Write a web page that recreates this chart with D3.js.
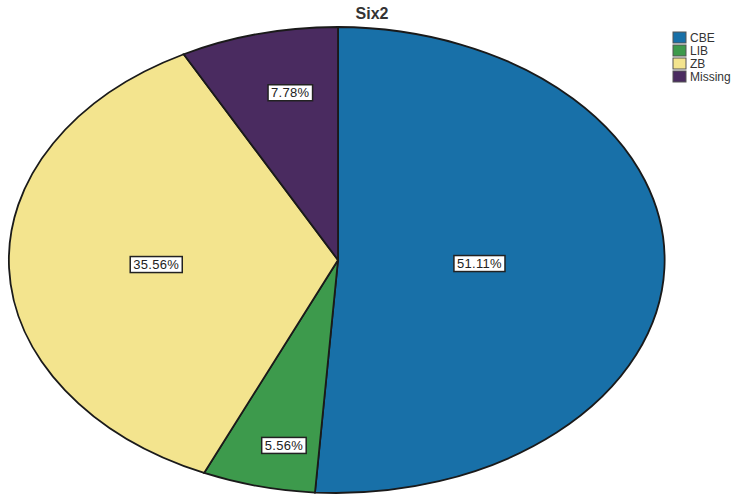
<!DOCTYPE html>
<html>
<head>
<meta charset="utf-8">
<script src="https://cdn.jsdelivr.net/npm/d3@7"></script>
<style>
  body { margin: 0; background: #fff; }
  svg { display: block; font-family: Arial, "Liberation Sans", sans-serif; }
</style>
</head>
<body>
<div id="chart"></div>
<script>
// data (counts out of 90 -> percentages shown on slices)
const categories = ["CBE", "LIB", "ZB", "Missing"];
const counts = [46, 5, 32, 7];
const colors = ["#1870a8", "#3d9a4c", "#f3e48e", "#4a2b60"];
// how far out (fraction of radius) each slice label sits
const labelRadius = [[0.43, 0.43], [0.68, 0.82], [0.553, 0.553], [0.6, 0.74]];

const width = 742, height = 499;
const cx = 338, cy = 260, rx = 329, ry = 233;

const svg = d3.select("#chart").append("svg")
    .attr("width", width)
    .attr("height", height);

svg.append("text")
    .attr("x", 372)
    .attr("y", 19)
    .attr("text-anchor", "middle")
    .style("font-size", "16px")
    .style("font-weight", "bold")
    .style("fill", "#333")
    .text("Six2");

const total = d3.sum(counts);
const pie = d3.pie().sort(null).value(d => d.value);
const arcs = pie(categories.map((c, i) => ({ name: c, value: counts[i], i: i })));

const arc = d3.arc().innerRadius(0).outerRadius(1);

const g = svg.append("g")
    .attr("transform", `translate(${cx},${cy}) scale(${rx},${ry})`);

g.selectAll("path")
    .data(arcs)
    .enter().append("path")
    .attr("d", arc)
    .attr("fill", d => colors[d.data.i])
    .attr("stroke", "#1a1a1a")
    .attr("stroke-width", 1.8)
    .attr("vector-effect", "non-scaling-stroke");

// labels
const labels = svg.append("g");
arcs.forEach(d => {
    const mid = (d.startAngle + d.endAngle) / 2;
    const f = labelRadius[d.data.i];
    const x = cx + rx * f[0] * Math.sin(mid);
    const y = cy - ry * f[1] * Math.cos(mid);
    const txt = (d.data.value / total * 100).toFixed(2) + "%";
    const lg = labels.append("g").attr("transform", `translate(${x},${y})`);
    const t = lg.append("text")
        .attr("text-anchor", "middle")
        .attr("dy", "0.35em")
        .style("font-size", "13px")
        .style("letter-spacing", "0.3px")
        .style("fill", "#222")
        .text(txt);
    const bb = t.node().getBBox();
    lg.insert("rect", "text")
        .attr("x", bb.x - 3)
        .attr("y", bb.y - 0.5)
        .attr("width", bb.width + 6)
        .attr("height", bb.height + 1)
        .attr("fill", "#fff")
        .attr("stroke", "#222")
        .attr("stroke-width", 1.5);
});

// legend
const legend = svg.append("g").attr("transform", "translate(673,32)");
categories.forEach((c, i) => {
    const row = legend.append("g").attr("transform", `translate(0,${i * 13})`);
    row.append("rect")
        .attr("width", 13)
        .attr("height", 11)
        .attr("fill", colors[i])
        .attr("stroke", "#555")
        .attr("stroke-width", 1);
    row.append("text")
        .attr("x", 17)
        .attr("y", 6)
        .attr("dy", "0.35em")
        .style("font-size", "12px")
        .style("fill", "#333")
        .text(c);
});
</script>
</body>
</html>
